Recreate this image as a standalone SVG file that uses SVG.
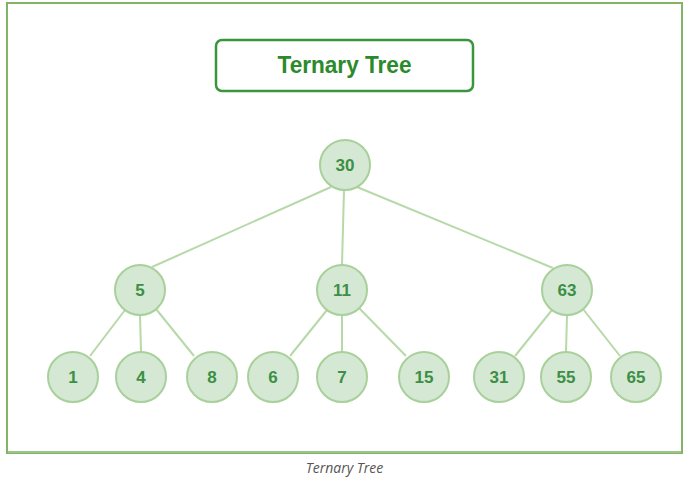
<svg xmlns="http://www.w3.org/2000/svg" width="689" height="483" viewBox="0 0 689 483">
<style>
.node circle{fill:#d5e8d4;stroke:#a8d09a;stroke-width:2}
.node text{font-family:"Liberation Sans",Arial,sans-serif;font-weight:bold;font-size:17px;fill:#3c8f45;text-anchor:middle;dominant-baseline:central}
.edges line{stroke:#b7d9a8;stroke-width:2}
</style>
<rect x="0" y="0" width="689" height="483" fill="#ffffff"/>
<rect x="7" y="3" width="675" height="450" fill="#ffffff" stroke="#82b366" stroke-width="2"/>
<line x1="8" y1="452" x2="681" y2="452" stroke="#9cc48a" stroke-width="2"/>
<g id="title">
<rect x="216" y="40" width="257" height="51" rx="6" ry="6" fill="#ffffff" stroke="#3a963a" stroke-width="2.5"/>
<text x="344.5" y="64" font-family="'Liberation Sans',Arial,sans-serif" font-weight="bold" font-size="24" fill="#2b8a2b" text-anchor="middle" dominant-baseline="central" textLength="134" lengthAdjust="spacingAndGlyphs">Ternary Tree</text>
</g>
<g class="edges" id="connectors">
<line x1="331" y1="187" x2="152" y2="267"/>
<line x1="344" y1="190" x2="342" y2="265"/>
<line x1="357" y1="187" x2="553" y2="268"/>
<line x1="125" y1="310" x2="90" y2="356"/>
<line x1="140" y1="315" x2="141" y2="352"/>
<line x1="156" y1="309" x2="194" y2="356"/>
<line x1="327" y1="310" x2="290" y2="356"/>
<line x1="342" y1="315" x2="342" y2="352"/>
<line x1="359" y1="308" x2="406" y2="356"/>
<line x1="552" y1="310" x2="515" y2="356"/>
<line x1="567" y1="315" x2="566" y2="352"/>
<line x1="583" y1="309" x2="620" y2="356"/>
</g>
<g class="node" id="n30"><circle cx="345" cy="165" r="25"/><text x="345" y="165">30</text></g>
<g class="node" id="n5"><circle cx="140" cy="290" r="25"/><text x="140" y="290">5</text></g>
<g class="node" id="n11"><circle cx="342" cy="290" r="25"/><text x="342" y="290">11</text></g>
<g class="node" id="n63"><circle cx="567" cy="290" r="25"/><text x="567" y="290">63</text></g>
<g class="node" id="n1"><circle cx="73" cy="377" r="25"/><text x="73" y="377">1</text></g>
<g class="node" id="n4"><circle cx="141" cy="377" r="25"/><text x="141" y="377">4</text></g>
<g class="node" id="n8"><circle cx="212" cy="377" r="25"/><text x="212" y="377">8</text></g>
<g class="node" id="n6"><circle cx="273" cy="377" r="25"/><text x="273" y="377">6</text></g>
<g class="node" id="n7"><circle cx="342" cy="377" r="25"/><text x="342" y="377">7</text></g>
<g class="node" id="n15"><circle cx="424" cy="377" r="25"/><text x="424" y="377">15</text></g>
<g class="node" id="n31"><circle cx="499" cy="377" r="25"/><text x="499" y="377">31</text></g>
<g class="node" id="n55"><circle cx="566" cy="377" r="25"/><text x="566" y="377">55</text></g>
<g class="node" id="n65"><circle cx="636" cy="377" r="25"/><text x="636" y="377">65</text></g>
<text x="344.5" y="473" font-family="'Open Sans','Liberation Sans',sans-serif" font-style="italic" font-size="14" fill="#555555" text-anchor="middle">Ternary Tree</text>
</svg>
